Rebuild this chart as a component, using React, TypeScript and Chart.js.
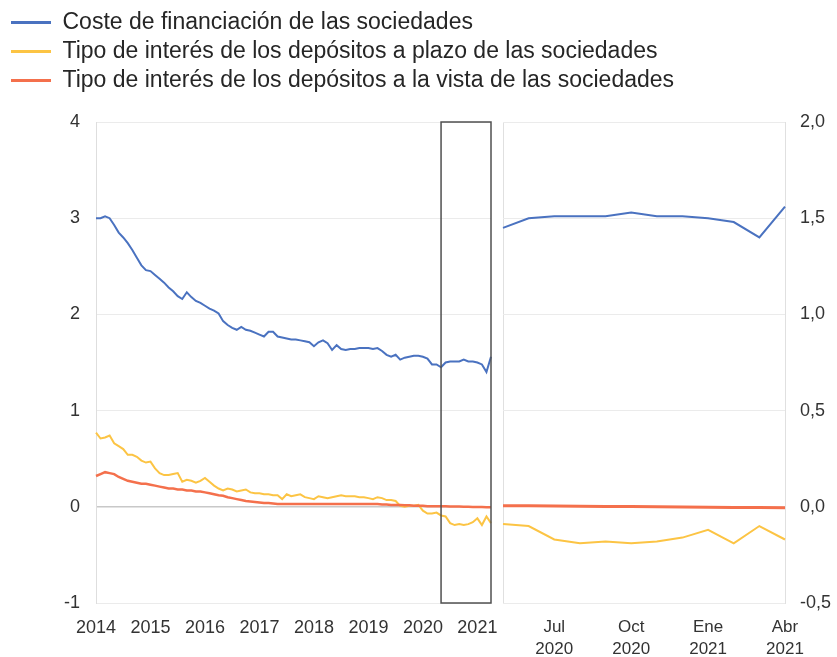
import React, { useEffect, useRef } from 'react';
import { Chart, registerables } from 'chart.js';

Chart.register(...registerables);

const FONT = "'Liberation Sans', Arial, Helvetica, sans-serif";
const BLUE = '#4a72c0';
const YELLOW = '#fcc444';
const RED = '#f4704c';
const TEXT = '#333333';

const seriesNames = [
  'Coste de financiación de las sociedades',
  'Tipo de interés de los depósitos a plazo de las sociedades',
  'Tipo de interés de los depósitos a la vista de las sociedades',
];

// Monthly categories, Jan 2014 – Apr 2021
const leftMonths: string[] = [];
for (let y = 2014; y <= 2021; y++) {
  for (let m = 1; m <= 12; m++) {
    if (y === 2021 && m > 4) break;
    leftMonths.push(`${y}-${String(m).padStart(2, '0')}`);
  }
}
const yearTicks = ['2014', '2015', '2016', '2017', '2018', '2019', '2020', '2021'];

const leftBlue = [
  3.00, 3.00, 3.02, 3.00, 2.93, 2.85, 2.80, 2.74, 2.67, 2.59, 2.51, 2.46,
  2.45, 2.41, 2.37, 2.33, 2.28, 2.24, 2.19, 2.16, 2.23, 2.18, 2.14, 2.12,
  2.09, 2.06, 2.04, 2.01, 1.93, 1.89, 1.86, 1.84, 1.87, 1.84, 1.83, 1.81,
  1.79, 1.77, 1.82, 1.82, 1.77, 1.76, 1.75, 1.74, 1.74, 1.73, 1.72, 1.71,
  1.67, 1.71, 1.73, 1.70, 1.63, 1.68, 1.64, 1.63, 1.64, 1.64, 1.65, 1.65,
  1.65, 1.64, 1.65, 1.62, 1.58, 1.56, 1.58, 1.53, 1.55, 1.56, 1.57, 1.57,
  1.56, 1.54, 1.48, 1.48, 1.45, 1.50, 1.51, 1.51, 1.51, 1.53, 1.51, 1.51,
  1.50, 1.48, 1.40, 1.56,
];
const leftYellow = [
  0.77, 0.71, 0.72, 0.74, 0.66, 0.63, 0.60, 0.54, 0.54, 0.52, 0.48, 0.46,
  0.47, 0.40, 0.35, 0.33, 0.33, 0.34, 0.35, 0.26, 0.28, 0.27, 0.25, 0.27,
  0.30, 0.26, 0.22, 0.19, 0.17, 0.19, 0.18, 0.16, 0.17, 0.18, 0.15, 0.14,
  0.14, 0.13, 0.13, 0.12, 0.12, 0.08, 0.13, 0.11, 0.12, 0.13, 0.10, 0.09,
  0.08, 0.11, 0.10, 0.09, 0.10, 0.11, 0.12, 0.11, 0.11, 0.11, 0.10, 0.10,
  0.09, 0.08, 0.10, 0.09, 0.07, 0.07, 0.06, 0.01, 0.00, 0.01, 0.01, 0.02,
  -0.04, -0.07, -0.07, -0.06, -0.09, -0.10, -0.17, -0.19, -0.18, -0.19, -0.18, -0.16,
  -0.12, -0.19, -0.10, -0.17,
];
const leftRed = [
  0.32, 0.34, 0.36, 0.35, 0.34, 0.31, 0.29, 0.27, 0.26, 0.25, 0.24, 0.24,
  0.23, 0.22, 0.21, 0.20, 0.19, 0.19, 0.18, 0.18, 0.17, 0.17, 0.16, 0.16,
  0.15, 0.14, 0.13, 0.12, 0.115, 0.10, 0.09, 0.08, 0.07, 0.06, 0.055, 0.05,
  0.045, 0.04, 0.04, 0.035, 0.03, 0.03, 0.03, 0.03, 0.03, 0.03, 0.03, 0.03,
  0.03, 0.03, 0.03, 0.03, 0.03, 0.03, 0.03, 0.03, 0.03, 0.03, 0.03, 0.03,
  0.03, 0.03, 0.03, 0.025, 0.025, 0.02, 0.02, 0.02, 0.015, 0.015, 0.01, 0.01,
  0.01, 0.005, 0.005, 0.005, 0.005, 0.005, 0.004, 0.003, 0.002, 0.001, 0.0, -0.001,
  -0.002, -0.003, -0.004, -0.005,
];

// Zoomed panel: May 2020 – Apr 2021
const rightMonths = [
  '2020-05', '2020-06', '2020-07', '2020-08', '2020-09', '2020-10',
  '2020-11', '2020-12', '2021-01', '2021-02', '2021-03', '2021-04',
];
const rightTickLabels: (string | string[])[] = [
  '', '', ['Jul', '2020'], '', '', ['Oct', '2020'], '', '', ['Ene', '2021'], '', '', ['Abr', '2021'],
];
const rightBlue = [1.45, 1.50, 1.51, 1.51, 1.51, 1.53, 1.51, 1.51, 1.50, 1.48, 1.40, 1.56];
const rightYellow = [-0.09, -0.10, -0.17, -0.19, -0.18, -0.19, -0.18, -0.16, -0.12, -0.19, -0.10, -0.17];
const rightRed = [0.005, 0.005, 0.004, 0.003, 0.002, 0.001, 0.0, -0.001, -0.002, -0.003, -0.004, -0.005];

const BOX_START = leftMonths.indexOf(rightMonths[0]);
const BOX_END = leftMonths.indexOf(rightMonths[rightMonths.length - 1]);

const fmtLeft = (v: number) => (v < 0 ? '-' + Math.abs(v) : String(v));
const fmtRight = (v: number) => (v < 0 ? '-' : '') + Math.abs(v).toFixed(1).replace('.', ',');

const boxPlugin = {
  id: 'zoomBox',
  afterDatasetsDraw(chart: any) {
    const { ctx, chartArea, scales } = chart;
    const x1 = scales.x.getPixelForValue(BOX_START);
    const x2 = scales.x.getPixelForValue(BOX_END);
    ctx.save();
    ctx.strokeStyle = '#505050';
    ctx.lineWidth = 1.5;
    ctx.strokeRect(x1, chartArea.top, x2 - x1, chartArea.bottom - chartArea.top);
    ctx.restore();
  },
};

function makeDatasets(blue: number[], yellow: number[], red: number[], redWidth: number) {
  return [
    { label: seriesNames[0], data: blue, borderColor: BLUE, backgroundColor: BLUE, borderWidth: 2, pointRadius: 0, tension: 0, order: 1 },
    { label: seriesNames[1], data: yellow, borderColor: YELLOW, backgroundColor: YELLOW, borderWidth: 2, pointRadius: 0, tension: 0, order: 2 },
    { label: seriesNames[2], data: red, borderColor: RED, backgroundColor: RED, borderWidth: redWidth, pointRadius: 0, tension: 0, order: 0 },
  ];
}

export default function App() {
  const legendRef = useRef<HTMLCanvasElement>(null);
  const leftRef = useRef<HTMLCanvasElement>(null);
  const rightRef = useRef<HTMLCanvasElement>(null);

  useEffect(() => {
    // Legend-only chart across the full width
    const legend = new Chart(legendRef.current as HTMLCanvasElement, {
      type: 'line',
      data: {
        labels: [],
        datasets: [
          { label: seriesNames[0], data: [], borderColor: BLUE },
          { label: seriesNames[1], data: [], borderColor: YELLOW },
          { label: seriesNames[2], data: [], borderColor: RED },
        ] as any,
      },
      options: {
        animation: false,
        responsive: false,
        maintainAspectRatio: false,
        layout: { padding: { top: 5, left: 5, right: 0, bottom: 0 } },
        scales: { x: { display: false }, y: { display: false } },
        plugins: {
          tooltip: { enabled: false },
          legend: {
            display: true,
            position: 'top',
            align: 'start',
            labels: {
              boxWidth: 40,
              boxHeight: 3,
              padding: 6,
              color: '#262626',
              font: { family: FONT, size: 23 },
              generateLabels: (chart: any) =>
                chart.data.datasets.map((ds: any, i: number) => ({
                  text: ds.label,
                  fillStyle: ds.borderColor,
                  strokeStyle: ds.borderColor,
                  lineWidth: 0,
                  hidden: false,
                  datasetIndex: i,
                  fontColor: '#262626',
                })),
            },
          },
        },
      } as any,
    });

    const left = new Chart(leftRef.current as HTMLCanvasElement, {
      type: 'line',
      data: { labels: leftMonths, datasets: makeDatasets(leftBlue, leftYellow, leftRed, 2.5) as any },
      plugins: [boxPlugin],
      options: {
        animation: false,
        responsive: false,
        maintainAspectRatio: false,
        layout: { padding: { top: 122, left: 5, right: 0, bottom: 0 } },
        plugins: { tooltip: { enabled: false }, legend: { display: false } },
        scales: {
          x: {
            type: 'category',
            offset: false,
            grid: { display: false, drawTicks: false },
            border: { display: false },
            ticks: {
              autoSkip: false,
              maxRotation: 0,
              minRotation: 0,
              padding: 14,
              color: TEXT,
              font: { family: FONT, size: 18 },
              callback: (_v: any, i: number) => (i % 12 === 0 ? yearTicks[i / 12] : ''),
            },
            afterFit: (s: any) => { s.height = 54; },
          },
          y: {
            min: -1,
            max: 4,
            grid: {
              drawTicks: false,
              color: (c: any) => (c.tick && c.tick.value === 0 ? '#c8c8c8' : '#ebebeb'),
              lineWidth: (c: any) => (c.tick && c.tick.value === 0 ? 1.5 : 1),
            },
            border: { display: true, color: '#dedede' },
            ticks: {
              stepSize: 1,
              padding: 16,
              color: TEXT,
              font: { family: FONT, size: 18 },
              callback: (v: any) => fmtLeft(Number(v)),
            },
            afterFit: (s: any) => { s.width = 91; },
          },
        },
      } as any,
    });

    const right = new Chart(rightRef.current as HTMLCanvasElement, {
      type: 'line',
      data: { labels: rightMonths, datasets: makeDatasets(rightBlue, rightYellow, rightRed, 3) as any },
      options: {
        animation: false,
        responsive: false,
        maintainAspectRatio: false,
        layout: { padding: { top: 22, left: 13, right: 0, bottom: 0 } },
        plugins: { tooltip: { enabled: false }, legend: { display: false } },
        scales: {
          x: {
            type: 'category',
            offset: false,
            grid: {
              drawTicks: false,
              color: (c: any) => (c.index === 0 ? '#e0e0e0' : 'rgba(0,0,0,0)'),
            },
            border: { display: false },
            ticks: {
              autoSkip: false,
              maxRotation: 0,
              minRotation: 0,
              padding: 14,
              color: TEXT,
              font: { family: FONT, size: 17, lineHeight: 1.25 },
              callback: (_v: any, i: number) => rightTickLabels[i],
            },
            afterFit: (s: any) => { s.height = 54; },
          },
          y: {
            position: 'right',
            min: -0.5,
            max: 2,
            grid: { drawTicks: false, color: '#ebebeb' },
            border: { display: true, color: '#e0e0e0' },
            ticks: {
              stepSize: 0.5,
              padding: 15,
              color: TEXT,
              font: { family: FONT, size: 18 },
              callback: (v: any) => fmtRight(Number(v)),
            },
            afterFit: (s: any) => { s.width = 52; s.paddingTop = 0; },
          },
        },
      } as any,
    });

    return () => {
      legend.destroy();
      left.destroy();
      right.destroy();
    };
  }, []);

  return (
    <div style={{ position: 'fixed', left: 0, top: 0, width: 837, height: 657, background: '#ffffff' }}>
      <canvas ref={legendRef} width={837} height={300} style={{ position: 'absolute', left: 0, top: 0, width: 837, height: 300 }} />
      <canvas ref={leftRef} width={505} height={657} style={{ position: 'absolute', left: 0, top: 0, width: 505, height: 657 }} />
      <canvas ref={rightRef} width={348} height={557} style={{ position: 'absolute', left: 489, top: 100, width: 348, height: 557 }} />
    </div>
  );
}
